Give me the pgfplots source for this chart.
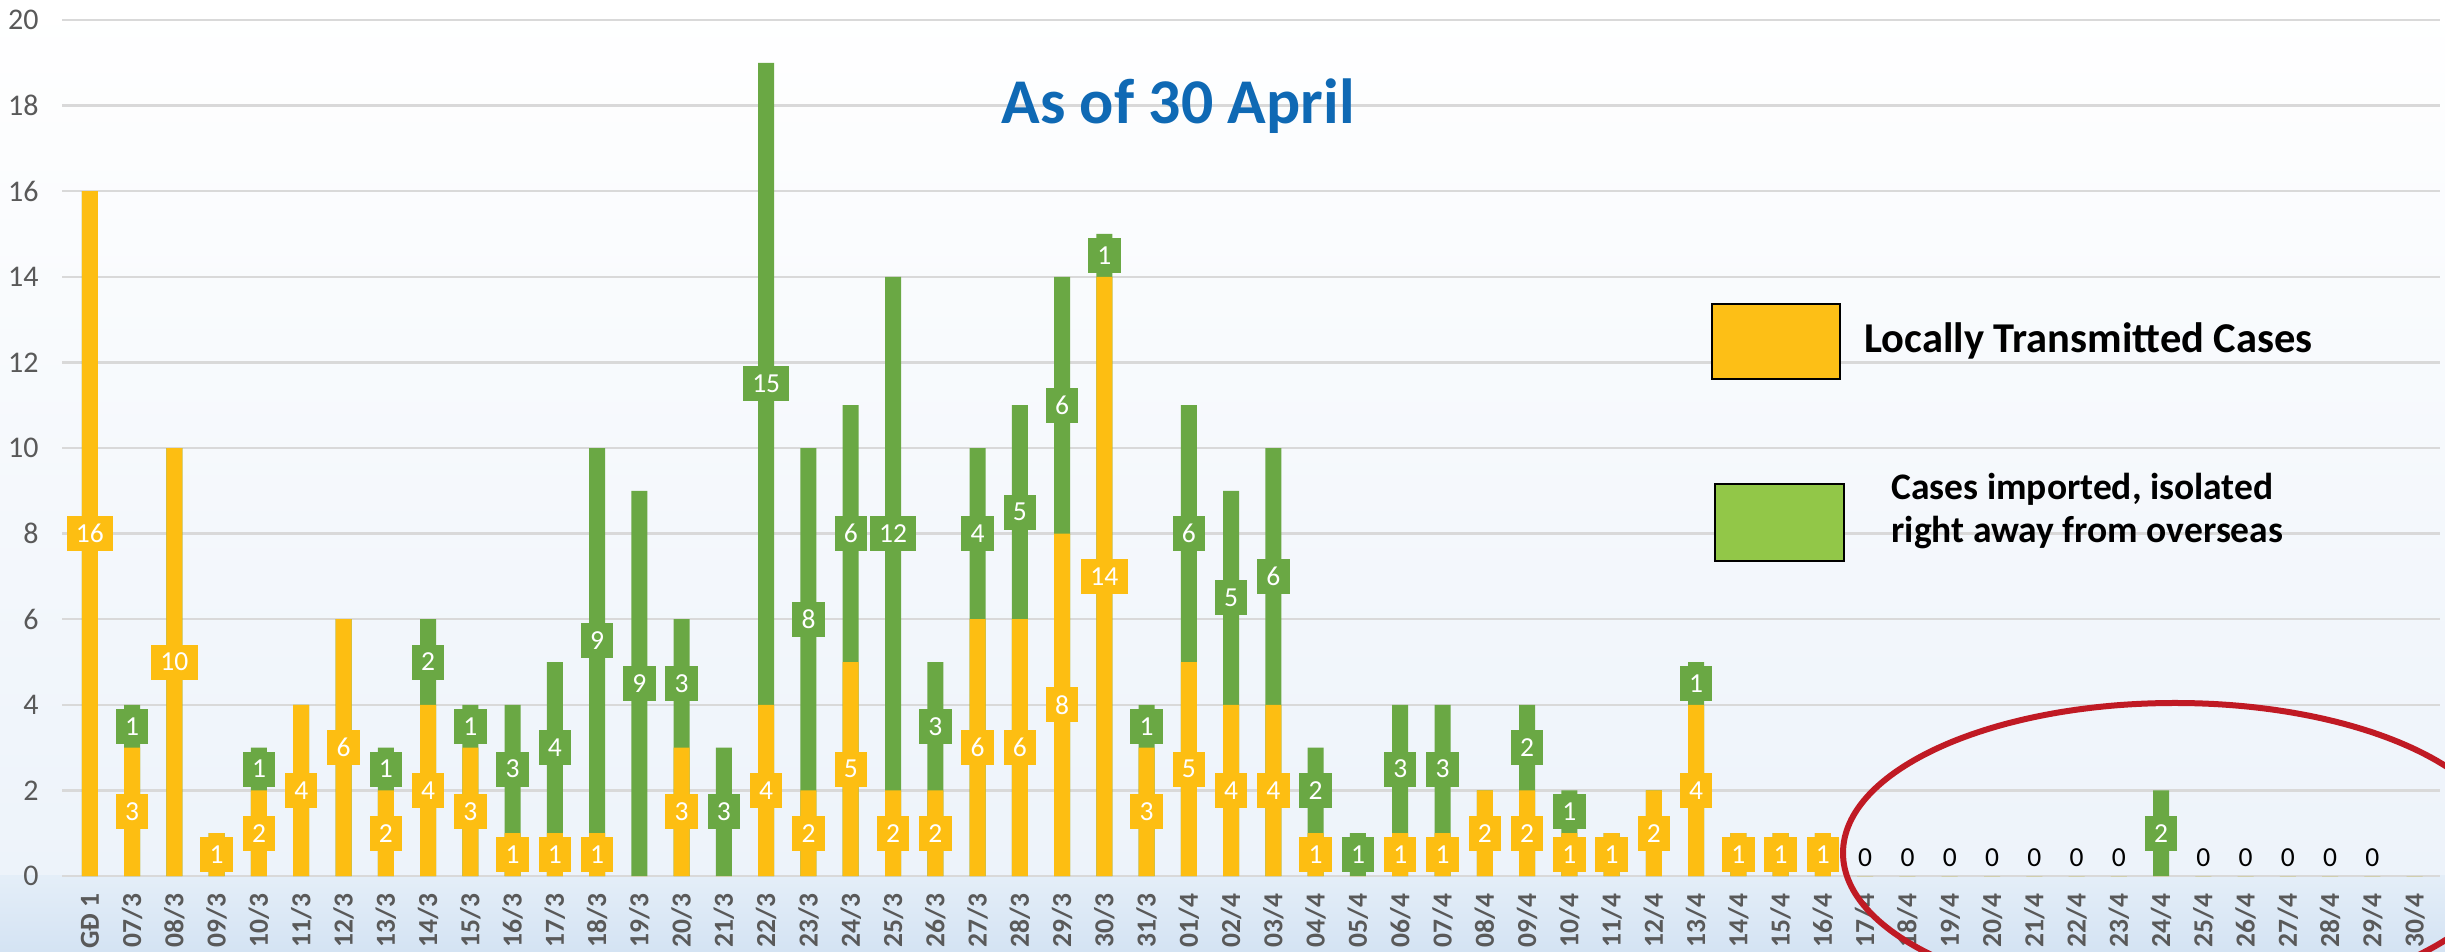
\documentclass[border=0pt]{standalone}
\usepackage{fontspec}
\setmainfont{Carlito}
\usepackage{pgfplots}
\pgfplotsset{compat=1.18}
\usepackage{pgfplotstable}
\definecolor{corange}{RGB}{253,190,18}
\definecolor{cgreen}{RGB}{106,168,68}
\definecolor{legorange}{RGB}{253,191,22}
\definecolor{leggreen}{RGB}{146,199,72}
\definecolor{gridgray}{RGB}{217,217,217}
\definecolor{tickgray}{RGB}{89,89,89}
\definecolor{titleblue}{RGB}{15,105,180}
\definecolor{ellred}{RGB}{192,26,36}
\definecolor{bgmid}{RGB}{237,243,250}
\definecolor{bglow1}{RGB}{228,238,248}
\definecolor{bglow2}{RGB}{212,227,243}
\pgfplotsset{/pgf/number format/assume math mode=true}
\pgfplotstableread{
x L I Z
0 16 0 0
1 3 1 0
2 10 0 0
3 1 0 0
4 2 1 0
5 4 0 0
6 6 0 0
7 2 1 0
8 4 2 0
9 3 1 0
10 1 3 0
11 1 4 0
12 1 9 0
13 0 9 0
14 3 3 0
15 0 3 0
16 4 15 0
17 2 8 0
18 5 6 0
19 2 12 0
20 2 3 0
21 6 4 0
22 6 5 0
23 8 6 0
24 14 1 0
25 3 1 0
26 5 6 0
27 4 5 0
28 4 6 0
29 1 2 0
30 0 1 0
31 1 3 0
32 1 3 0
33 2 0 0
34 2 2 0
35 1 1 0
36 1 0 0
37 2 0 0
38 4 1 0
39 1 0 0
40 1 0 0
41 1 0 0
42 0 0 1
43 0 0 1
44 0 0 1
45 0 0 1
46 0 0 1
47 0 0 1
48 0 0 1
49 0 2 0
50 0 0 1
51 0 0 1
52 0 0 1
53 0 0 1
54 0 0 1
55 0 0 0
}\data
\begin{document}
\begin{tikzpicture}
\begin{scope}[shift={(-24.8pt,350.4pt)}, x=0.4pt, y=-0.4pt]
\useasboundingbox (0,0) rectangle (2445,952);
\shade[top color=white, bottom color=bgmid] (0,0) rectangle (2445,876);
\shade[top color=bglow1, bottom color=bglow2] (0,876) rectangle (2445,952);
\end{scope}
\begin{axis}[
  at={(0,0)}, anchor=south west,
  scale only axis, width=951.2pt, height=342.4pt,
  xmin=-0.66, xmax=55.6, ymin=0, ymax=20,
  ytick={0,2,...,20},
  xtick={0,...,55},
  xticklabels={GĐ 1,07/3,08/3,09/3,10/3,11/3,12/3,13/3,14/3,15/3,16/3,17/3,18/3,19/3,20/3,21/3,22/3,23/3,24/3,25/3,26/3,27/3,28/3,29/3,30/3,31/3,01/4,02/4,03/4,04/4,05/4,06/4,07/4,08/4,09/4,10/4,11/4,12/4,13/4,14/4,15/4,16/4,17/4,18/4,19/4,20/4,21/4,22/4,23/4,24/4,25/4,26/4,27/4,28/4,29/4,30/4},
  axis line style={draw=none},
  major tick length=0pt,
  ymajorgrids, grid style={line width=1pt, color=gridgray},
  tick label style={text=tickgray},
  xticklabel style={rotate=90, anchor=east, inner sep=0pt, font=\fontsize{11}{12}\selectfont\bfseries},
  yticklabel style={anchor=east, inner sep=0pt, font=\fontsize{12}{13}\selectfont},
  xticklabel shift=6.8pt, yticklabel shift=9.2pt,
  clip=false,
]
\addplot[ybar, bar width=6.4pt, bar shift=0pt, fill=cgreen, draw=none]
  table[x=x, y expr=\thisrow{L}+\thisrow{I}] {\data};
\addplot[ybar, bar width=6.4pt, bar shift=0pt, fill=corange, draw=none]
  table[x=x, y=L] {\data};
\addplot[draw=none, mark=none, restrict expr to domain={\thisrow{L}}{0.5:100},
  point meta=explicit, nodes near coords,
  every node near coord/.append style={anchor=center, fill=corange, text=white,
    inner xsep=3.7pt, inner ysep=0pt, minimum height=14pt, font=\fontsize{11}{12}\selectfont}]
  table[x=x, y expr=\thisrow{L}/2, meta=L] {\data};
\addplot[draw=none, mark=none, restrict expr to domain={\thisrow{I}}{0.5:100},
  point meta=explicit, nodes near coords,
  every node near coord/.append style={anchor=center, fill=cgreen, text=white,
    inner xsep=3.7pt, inner ysep=0pt, minimum height=14pt, font=\fontsize{11}{12}\selectfont}]
  table[x=x, y expr=\thisrow{L}+\thisrow{I}/2, meta=I] {\data};
\addplot[draw=none, mark=none, restrict expr to domain={\thisrow{Z}}{0.5:2},
  nodes near coords={0},
  every node near coord/.append style={anchor=center, text=black, inner sep=0pt,
    font=\fontsize{11}{12}\selectfont}]
  table[x=x, y expr=0.44] {\data};
\end{axis}
\begin{scope}[shift={(-24.8pt,350.4pt)}, x=0.4pt, y=-0.4pt]
\node[anchor=base west, inner sep=0pt, font=\fontsize{25.5}{30}\selectfont\bfseries, text=titleblue] at (1001,124) {As of 30 April};
\draw[fill=legorange, line width=1pt] (1712,304) rectangle (1840,379);
\draw[fill=leggreen, line width=1pt] (1715,484) rectangle (1844,561);
\node[anchor=base west, inner sep=0pt, font=\fontsize{17}{20}\selectfont\bfseries] at (1864,353) {Locally Transmitted Cases};
\node[anchor=base west, inner sep=0pt, font=\fontsize{15}{18}\selectfont\bfseries] at (1891,500) {Cases imported, isolated};
\node[anchor=base west, inner sep=0pt, font=\fontsize{15}{18}\selectfont\bfseries] at (1891,543) {right away from overseas};
\draw[ellred, line width=2.4pt] (2175,853) ellipse [x radius=132.8pt, y radius=60pt];
\pgfresetboundingbox
\path[use as bounding box] (0,0) rectangle (2445,952);
\end{scope}
\end{tikzpicture}
\end{document}
